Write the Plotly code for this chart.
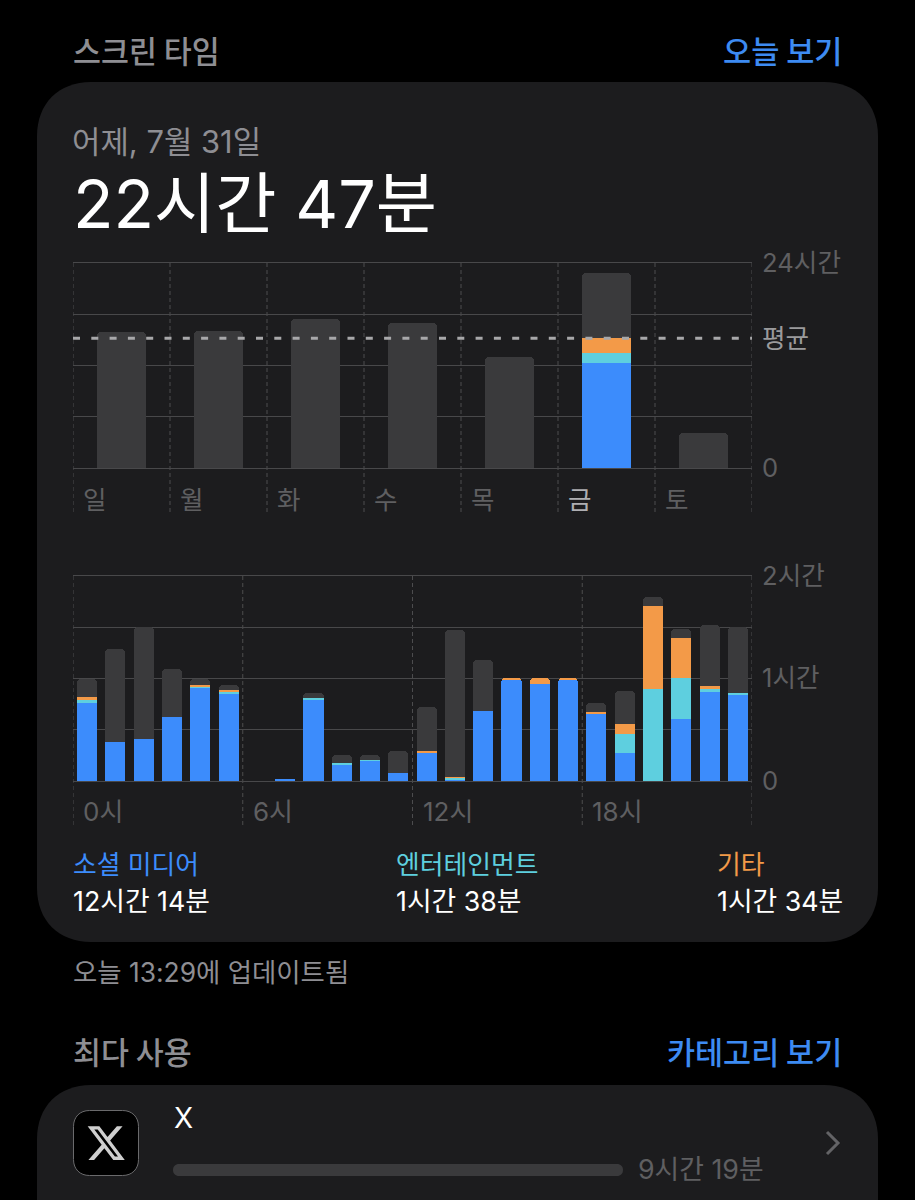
import plotly.graph_objects as go

# ---------- data ----------
DAYS = ["일", "월", "화", "수", "목", "금", "토"]
WEEK_TOTAL = [15.9, 16.0, 17.4, 17.0, 13.0, 22.78, 4.1]
WEEK_SOCIAL = [0, 0, 0, 0, 0, 12.3, 0]
WEEK_ENT = [0, 0, 0, 0, 0, 1.17, 0]
WEEK_ETC = [0, 0, 0, 0, 0, 1.7, 0]
WEEK_AVG = 15.2
WEEK_TICKS = [0, 6, 12, 18, 24]
WEEK_TICKTEXT = ["0", "", "", "", "24시간"]

HOURS = list(range(24))
HOUR_SOCIAL = [45.4, 23.0, 24.8, 37.6, 55.0, 51.3, 0, 0.8, 47.2, 9.8, 12.1, 4.7,
               16.6, 0.3, 41.1, 59.7, 56.7, 59.3, 39.4, 16.6, 0, 36.3, 52.3, 50.1]
HOUR_ENT = [1.8, 0, 0, 0, 0.5, 0.8, 0, 0, 1.4, 0.8, 0.4, 0,
            0.2, 2.0, 0, 0, 0, 0, 0.1, 10.9, 53.6, 24.0, 1.8, 1.6]
HOUR_ETC = [2.0, 0, 0, 0, 0.5, 1.2, 0, 0, 0, 0, 0, 0,
            0.7, 0.2, 0, 0.2, 3.6, 0.8, 0.7, 6.0, 49.1, 23.4, 1.8, 0]
HOUR_TOTAL = [59.9, 77.4, 89.9, 65.3, 59.9, 56.4, 0, 0.8, 51.5, 15.2, 15.2, 17.6,
              43.1, 88.5, 70.6, 59.9, 60.3, 60.1, 45.8, 52.5, 107.6, 88.7, 91.5, 90.1]
HOUR_TICKS = [0, 30, 60, 90, 120]
HOUR_TICKTEXT = ["0", "", "1시간", "", "2시간"]
HOUR_LABELS = {0: "0시", 6: "6시", 12: "12시", 18: "18시"}

LEGEND = [("소셜 미디어", "12시간 14분"), ("엔터테인먼트", "1시간 38분"), ("기타", "1시간 34분")]

# ---------- style ----------
W, H = 915, 1200
BLUE, TEAL, ORANGE, GREY = "#3c8cfc", "#5ecfdf", "#f39a48", "#3a3a3c"
CARD = "#1c1c1e"
GRID = "#48484a"
DIM = "#5f5f61"
MUTED = "#8e8e93"
LINK = "#3d8bf2"
FONT = 'Inter, "Noto Sans CJK KR", sans-serif'
KFONT = '"Noto Sans CJK KR", sans-serif'


def px(x):
    return x / W


def py(y):
    return 1 - y / H


def round_rect(x0, y0, x1, y1, r):
    k = r * 0.4
    pts = [
        f"M{px(x0 + r)},{py(y0)}", f"L{px(x1 - r)},{py(y0)}",
        f"C{px(x1 - k)},{py(y0)} {px(x1)},{py(y0 + k)} {px(x1)},{py(y0 + r)}",
        f"L{px(x1)},{py(y1 - r)}",
        f"C{px(x1)},{py(y1 - k)} {px(x1 - k)},{py(y1)} {px(x1 - r)},{py(y1)}",
        f"L{px(x0 + r)},{py(y1)}",
        f"C{px(x0 + k)},{py(y1)} {px(x0)},{py(y1 - k)} {px(x0)},{py(y1 - r)}",
        f"L{px(x0)},{py(y0 + r)}",
        f"C{px(x0)},{py(y0 + k)} {px(x0 + k)},{py(y0)} {px(x0 + r)},{py(y0)}", "Z",
    ]
    return " ".join(pts)


fig = go.Figure()


def stack(xs, series, xa, ya, width):
    for vals, col in series:
        fig.add_bar(x=xs, y=vals, marker=dict(color=col, line=dict(width=0)), width=width,
                    xaxis=xa, yaxis=ya, showlegend=False, hoverinfo="skip")


week_other = [max(t - a - b - c, 0) for t, a, b, c in zip(WEEK_TOTAL, WEEK_SOCIAL, WEEK_ENT, WEEK_ETC)]
stack(DAYS, [(WEEK_SOCIAL, BLUE), (WEEK_ENT, TEAL), (WEEK_ETC, ORANGE), (week_other, GREY)], "x", "y", 0.5)
hour_other = [max(t - a - b - c, 0) for t, a, b, c in zip(HOUR_TOTAL, HOUR_SOCIAL, HOUR_ENT, HOUR_ETC)]
stack(HOURS, [(HOUR_SOCIAL, BLUE), (HOUR_ENT, TEAL), (HOUR_ETC, ORANGE), (hour_other, GREY)], "x2", "y2", 0.71)

shapes = [
    dict(type="path", path=round_rect(37, 82, 878, 942, 54), xref="paper", yref="paper",
         fillcolor=CARD, line_width=0, layer="below"),
    dict(type="path", path=round_rect(37, 1085, 878, 1290, 54), xref="paper", yref="paper",
         fillcolor=CARD, line_width=0, layer="below"),
    # app row
    dict(type="path", path=round_rect(73.5, 1110.5, 138.5, 1175.5, 16), xref="paper", yref="paper",
         fillcolor="#000000", line=dict(color="#6a6a6c", width=1)),
    dict(type="path", path=round_rect(173, 1164, 623, 1176, 6), xref="paper", yref="paper",
         fillcolor=GREY, line_width=0),
    dict(type="path", path=f"M{px(827)},{py(1132)} L{px(838)},{py(1143)} L{px(827)},{py(1154)}",
         xref="paper", yref="paper", line=dict(color="#636366", width=3)),
    # average line
    dict(type="line", xref="x domain", yref="y", x0=0, x1=1, y0=WEEK_AVG, y1=WEEK_AVG,
         line=dict(color="#a8a8aa", width=3, dash="7px,11.3px")),
]

# X glyph
XG = [[(18.244, 2.25), (21.552, 2.25), (14.325, 10.51), (22.827, 21.75), (16.17, 21.75), (10.956, 14.933),
       (4.99, 21.75), (1.68, 21.75), (9.41, 12.915), (1.254, 2.25), (8.08, 2.25), (12.793, 8.481)],
      [(17.083, 19.77), (18.916, 19.77), (7.084, 4.126), (5.117, 4.126)]]
gp = ""
for poly in XG:
    gp += "M" + " L".join(f"{px(85.5 + a * 1.72)},{py(1122.5 + b * 1.72)}" for a, b in poly) + " Z "
shapes.append(dict(type="path", path=gp, xref="paper", yref="paper", fillcolor="#cfcfcf", line_width=0))

# dashed vertical separators that run past the axis
VDASH = dict(color="#4c4c4e", width=1, dash="4px,3px")
for i in range(len(DAYS) + 1):
    shapes.append(dict(type="line", xref="x", yref="paper", x0=i - 0.5, x1=i - 0.5,
                       y0=py(263), y1=py(513), line=VDASH, layer="below"))
for h in list(HOUR_LABELS) + [24]:
    shapes.append(dict(type="line", xref="x2", yref="paper", x0=h - 0.5, x1=h - 0.5,
                       y0=py(576), y1=py(826), line=VDASH, layer="below"))

ann = []


def text(x, y, s, size, color, anchor="left", family=FONT, weight=400):
    ann.append(dict(x=px(x), y=py(y), xref="paper", yref="paper", text=s, showarrow=False,
                    xanchor=anchor, yanchor="middle", borderpad=0,
                    font=dict(size=size, color=color, family=family, weight=weight)))


text(71.5, 50, "스크린 타임", 30.4, MUTED, family=KFONT, weight=500)
text(843, 50, "오늘 보기", 30.6, LINK, "right", KFONT, 500)
text(71, 142, "어제, 7월 31일", 30.9, MUTED)
text(71.5, 204, "22시간 47분", 66.5, "#ffffff")
text(760.5, 338, "평균", 25.6, "#9a9a9c")
for (name, val), x0, col in zip(LEGEND, [71.5, 394.5, 715.5], [BLUE, TEAL, ORANGE]):
    text(x0, 864, name, 25.8, col)
    text(x0, 901, val, 26.8, "#ffffff")
text(71.5, 972, "오늘 13:29에 업데이트됨", 26.4, MUTED)
text(71.5, 1051, "최다 사용", 30.4, MUTED, family=KFONT, weight=500)
text(843, 1051, "카테고리 보기", 30.5, LINK, "right", KFONT, 500)
text(173, 1118, "X", 28, "#ffffff")
text(636.5, 1169, "9시간 19분", 26.8, DIM)

for i, d in enumerate(DAYS):
    ann.append(dict(x=i - 0.5, xref="x", xshift=8, y=py(497), yref="paper", text=d, showarrow=False,
                    xanchor="left", yanchor="middle",
                    font=dict(size=25.5, color="#aeaeb2" if d == "금" else DIM, family=KFONT)))
for h, lab in HOUR_LABELS.items():
    ann.append(dict(x=h - 0.5, xref="x2", xshift=8, y=py(811), yref="paper", text=lab, showarrow=False,
                    xanchor="left", yanchor="middle", font=dict(size=26, color=DIM, family=FONT)))

yax = dict(side="right", showgrid=True, gridcolor=GRID, gridwidth=1, zeroline=False, showline=False,
           ticks="outside", ticklen=4, tickcolor="rgba(0,0,0,0)",
           tickfont=dict(size=25.6, color=DIM, family=FONT), tickmode="array", automargin=False)
xax = dict(showgrid=False, zeroline=False, showline=True, linecolor=GRID, linewidth=1, mirror=True,
           showticklabels=False, ticks="", automargin=False)

fig.update_layout(
    width=W, height=H, margin=dict(l=0, r=0, t=0, b=0),
    paper_bgcolor="#000000", plot_bgcolor="rgba(0,0,0,0)",
    barmode="stack", barcornerradius=4, bargap=0, showlegend=False, hovermode=False,
    font=dict(family=FONT),
    xaxis=dict(xax, domain=[px(73), px(752)], range=[-0.5, 6.5], type="category", categoryorder="array",
               categoryarray=DAYS, anchor="y"),
    yaxis=dict(yax, domain=[py(468), py(263)], range=[0, 24], tickvals=WEEK_TICKS, ticktext=WEEK_TICKTEXT,
               anchor="x"),
    xaxis2=dict(xax, domain=[px(73), px(752)], range=[-0.5, 23.5], anchor="y2"),
    yaxis2=dict(yax, domain=[py(781), py(576)], range=[0, 120], tickvals=HOUR_TICKS, ticktext=HOUR_TICKTEXT,
                anchor="x2"),
    shapes=shapes, annotations=ann,
)

fig.write_html("out.html", config=dict(displayModeBar=False, responsive=False),
               post_script="document.body.style.margin='0';document.body.style.background='#000';")
